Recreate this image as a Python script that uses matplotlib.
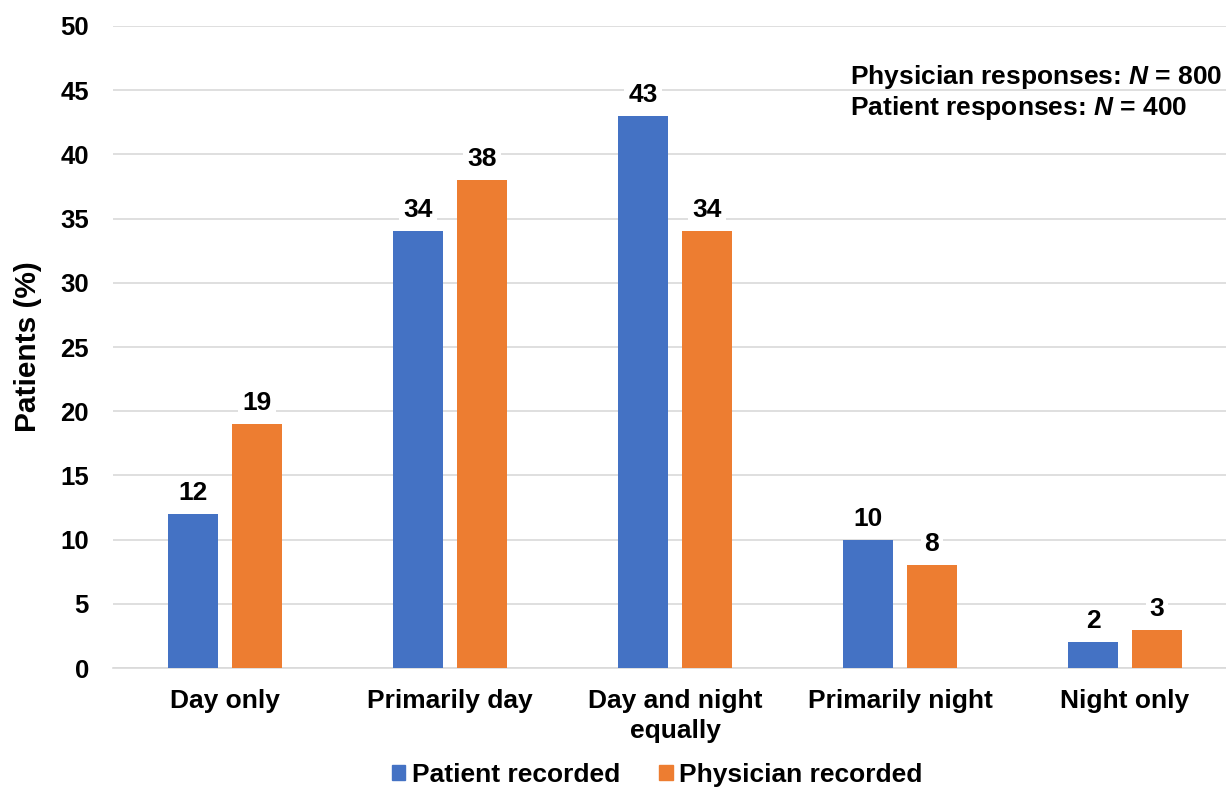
import numpy as np
import matplotlib.pyplot as plt
from matplotlib.patches import Patch

plt.rcParams['font.family'] = ['Liberation Sans', 'DejaVu Sans']
plt.rcParams['font.weight'] = 'bold'
plt.rcParams['mathtext.fontset'] = 'custom'
plt.rcParams['mathtext.bfit'] = 'Liberation Sans:bold:italic'
plt.rcParams['mathtext.it'] = 'Liberation Sans:bold:italic'

categories = ['Day only', 'Primarily day', 'Day and night\nequally',
              'Primarily night', 'Night only']
patient = [12, 34, 43, 10, 2]
physician = [19, 38, 34, 8, 3]
series_names = ['Patient recorded', 'Physician recorded']
colors = ['#4472C4', '#ED7D31']

fig = plt.figure(figsize=(12.26, 7.90), dpi=100)
ax = fig.add_axes([0.0918, 0.1544, 0.9176, 0.8127])

x = np.arange(len(categories))
w = 0.222
off = 0.142
for vals, dx, c in [(patient, -off, colors[0]), (physician, off, colors[1])]:
    bars = ax.bar(x + dx, vals, width=w, color=c, zorder=3)
    for b, v in zip(bars, vals):
        ax.text(b.get_x() + b.get_width() / 2, v + 0.7, str(v),
                ha='center', va='bottom', fontsize=19, fontweight='bold',
                zorder=4,
                bbox=dict(boxstyle='square,pad=0.15', fc='white', ec='none'))

ax.set_xlim(-0.5, len(categories) - 0.5)
ax.set_ylim(0, 50)
ax.set_yticks(range(0, 51, 5))
ax.yaxis.grid(True, color='#D9D9D9', linewidth=1.2, zorder=0)
ax.set_axisbelow(True)
for s in ['top', 'right', 'left']:
    ax.spines[s].set_visible(False)
ax.spines['bottom'].set_color('#D9D9D9')
ax.spines['bottom'].set_linewidth(1.2)
ax.tick_params(axis='y', length=0, labelsize=18.5, pad=17)
ax.tick_params(axis='x', length=0, labelsize=19, pad=15)
ax.set_xticks(x)
ax.set_xticklabels(categories, fontweight='bold', linespacing=1.3)
for lbl in ax.get_yticklabels():
    lbl.set_fontweight('bold')
ax.set_ylabel('Patients (%)', fontsize=21.5, fontweight='bold', labelpad=13)

fig.text(0.693, 0.903, r'Physician responses: $\mathbfit{N}$ = 800',
         fontsize=19, fontweight='bold', ha='left', va='center')
fig.text(0.693, 0.863, r'Patient responses: $\mathbfit{N}$ = 400',
         fontsize=19, fontweight='bold', ha='left', va='center')

handles = [Patch(color=c) for c in colors]
fig.legend(handles, series_names, loc='center', bbox_to_anchor=(0.536, 0.019),
           ncol=2, frameon=False, handlelength=0.5, handleheight=0.5,
           handletextpad=0.25, columnspacing=1.5,
           prop={'weight': 'bold', 'size': 19})

fig.savefig('out.png', dpi=100)
